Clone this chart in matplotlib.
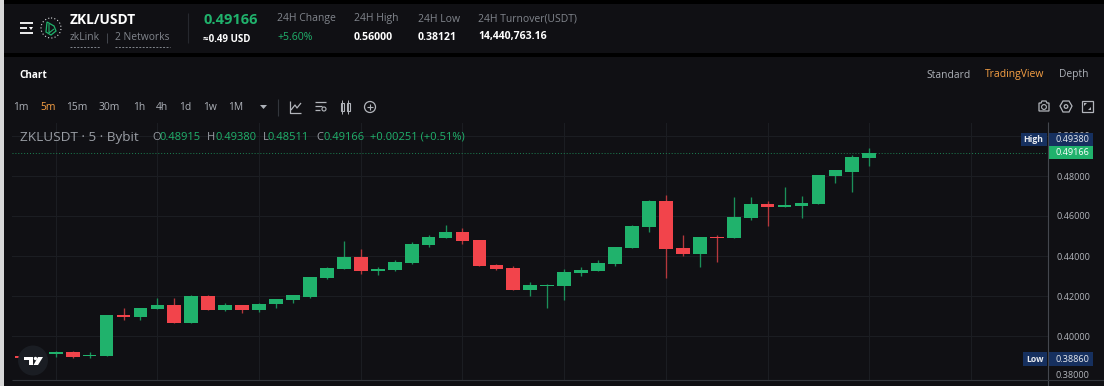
import matplotlib
matplotlib.use("Agg")
import matplotlib.pyplot as plt
from matplotlib.patches import Circle, Polygon, Rectangle

plt.rcParams['font.family'] = ['Open Sans', 'DejaVu Sans']

# candles, oldest first
opens = [.3902, .3890, .3912, .3920, .3898, .3902, .4105, .4095, .4135, .4153, .4067, .4202, .4130, .4153, .4130,
         .4158, .4180, .4197, .4289, .4337, .4397, .4325, .4328, .4365, .4455, .4492, .4522, .4480, .4355, .4338,
         .4232, .4252, .4252, .4317, .4325, .4362, .4442, .4545, .4675, .4440, .4410, .4495, .4490, .4590, .4662,
         .4647, .4650, .4660, .4800, .4822, .48915]
closes = [.3890, .3905, .3920, .3897, .3907, .4103, .4095, .4140, .4153, .4067, .4202, .4130, .4153, .4130, .4162,
          .4185, .4204, .4294, .4342, .4395, .4325, .4333, .4368, .4458, .4495, .4522, .4477, .4350, .4333, .4230,
          .4255, .4257, .4318, .4328, .4363, .4443, .4548, .4675, .4437, .4412, .4495, .4490, .4593, .4662, .4647,
          .4657, .4665, .4805, .4828, .4895, .49166]
highs = [.3902, .3905, .3927, .3923, .3918, .4105, .4142, .4142, .4192, .4188, .4205, .4205, .4167, .4155, .4165,
         .4187, .4206, .4295, .4347, .4475, .4434, .4343, .4382, .4468, .4503, .4557, .4540, .4480, .4360, .4352,
         .4268, .4258, .4333, .4343, .4378, .4445, .4555, .4680, .4705, .4503, .4497, .4505, .4695, .4695, .4675,
         .4747, .4700, .4807, .4830, .4905, .49380]
lows = [.3890, .3890, .3897, .3892, .3892, .3900, .4082, .4082, .4135, .4063, .4063, .4130, .4127, .4117, .4120,
        .4142, .4167, .4192, .4287, .4335, .4308, .4303, .4326, .4362, .4447, .4490, .4460, .4350, .4328, .4228,
        .4202, .4140, .4180, .4302, .4323, .4348, .4440, .4518, .4288, .4402, .4347, .4368, .4488, .4580, .4552,
        .4645, .4588, .4658, .4767, .4720, .48511]
price_ticks = [.40, .42, .44, .46, .48, .50]
last_price = closes[-1]

timeframes = ['1m', '5m', '15m', '30m', '1h', '4h', '1d', '1w', '1M']
timeframe_x = [13, 40, 66, 99, 133, 156, 179, 203, 228]

BG = '#101014'
GREEN = '#20b26c'
RED = '#f2444b'
GREEN_WICK = '#1b9059'
RED_WICK = '#b5383d'
GREY = '#81858c'
GRID = '#1b1d22'
BADGE = '#16305f'
ORANGE = '#f7a044'
ICON = '#b2b5bb'
W, H = 1104, 386

fig = plt.figure(figsize=(W / 100, H / 100), dpi=100, facecolor='#000000')

# chart pane, price scale on the right
ax = fig.add_axes([12 / W, 1 - 380 / H, (1048 - 12) / W, (380 - 123) / H], facecolor=BG, zorder=2)
x = list(range(-2, len(opens) - 2))
colors = [GREEN if c >= o else RED for o, c in zip(opens, closes)]
wick_colors = [GREEN_WICK if c >= o else RED_WICK for o, c in zip(opens, closes)]
ax.vlines(x, lows, highs, colors=wick_colors, linewidth=0.95, zorder=3)
ax.bar(x, [abs(c - o) for o, c in zip(opens, closes)], bottom=[min(o, c) for o, c in zip(opens, closes)],
       width=0.81, color=colors, zorder=4)
ax.axhline(last_price, color=GREEN, linewidth=0.7, linestyle=(0, (1, 2)), alpha=0.7, zorder=2)
ax.set_xlim((12 - 55.7) / 16.95, (1048 - 55.7) / 16.95)
ax.set_ylim(.378, .5065)
ax.set_xticks(range(0, 55, 6))
ax.set_yticks(price_ticks)
ax.set_yticklabels([f'{p:.5f}' for p in price_ticks])
ax.yaxis.tick_right()
ax.tick_params(axis='x', length=0, labelbottom=False)
ax.tick_params(axis='y', length=0, labelsize=6.6, labelcolor=ICON, pad=6)
ax.grid(True, color=GRID, linewidth=0.8)
ax.set_axisbelow(True)
for side in ['top', 'left', 'bottom', 'right']:
    ax.spines[side].set_visible(False)

# page furniture, in pixel coordinates
ui = fig.add_axes([0, 0, 1, 1], zorder=3)
ui.set_xlim(0, W)
ui.set_ylim(H, 0)
ui.axis('off')
back = fig.add_axes([0, 0, 1, 1], zorder=1)
back.set_xlim(0, W)
back.set_ylim(H, 0)
back.axis('off')
back.add_patch(Rectangle((4, 4), W, 49, color=BG, lw=0))
back.add_patch(Rectangle((4, 57), W, H, color=BG, lw=0))
back.add_patch(Rectangle((0, 0), 3.5, H, color='#d8d8d8', lw=0))


def label(px, py, s, color=GREY, size=7.0, weight='normal', ha='left'):
    ui.text(px, py + 1, s, color=color, fontsize=size, fontweight=weight, ha=ha, va='center')


def line(xs, ys, color='#d0d2d6', lw=0.9, **kw):
    ui.plot(xs, ys, color=color, linewidth=lw, solid_capstyle='butt', **kw)


# scale and pane borders
line([1048, 1048], [122, 386], color='#44474e', lw=0.8)
line([12, 1104], [380, 380], color='#33363c', lw=0.8)

# header
for yy, x1 in [(23, 33), (28, 27), (33, 33)]:
    line([20, x1], [yy, yy], color='#ffffff', lw=1.3)
ui.add_patch(Polygon([(29, 27), (33, 27), (31, 30)], color='#ffffff', lw=0))
ui.add_patch(Circle((51, 28), 10, fill=False, ec='#d8dadd', lw=0.8, ls=(0, (1, 2))))
ui.add_patch(Polygon([(47, 22), (54, 26), (56, 31), (51, 35), (46, 32)], fill=False, ec=GREEN, lw=0.9))
line([49, 49, 54], [24, 33, 29], color=GREEN, lw=0.8)
label(70, 19, 'ZKL/USDT', color='#ffffff', size=9.9, weight='bold')
label(70, 37, 'zkLink', size=7.4)
line([107, 107], [33, 43], color='#44474e', lw=0.7)
label(115, 37, '2 Networks', size=7.4)
line([70, 100], [47, 47], color=GREY, lw=0.7, ls=(0, (2, 1.5)))
line([115, 170], [47, 47], color=GREY, lw=0.7, ls=(0, (2, 1.5)))
line([187.5, 187.5], [13, 43], color='#26282e', lw=0.8)
label(203, 19, '0.49166', color=GREEN, size=10.5, weight='bold')
label(203, 38, '≈0.49 USD', color='#ffffff', size=7.0, weight='bold')
label(277, 18, '24H Change', size=7.5)
label(277, 37, '+5.60%', color=GREEN, size=7.6)
label(354, 18, '24H High', size=7.5)
label(354, 36, '0.56000', color='#ffffff', size=7.6, weight='bold')
label(418, 18, '24H Low', size=7.5)
label(418, 36, '0.38121', color='#ffffff', size=7.6, weight='bold')
label(478, 18, '24H Turnover(USDT)', size=7.5)
label(478, 36, '14,440,763.16', color='#ffffff', size=7.6, weight='bold')

# tabs and toolbar
label(19, 74, 'Chart', color='#ffffff', size=7.2, weight='bold')
label(926, 74, 'Standard', color='#adb1b8', size=7.4)
label(985, 74, 'TradingView', color=ORANGE, size=7.5)
label(1059, 74, 'Depth', color='#adb1b8', size=7.4)
for tf, tx in zip(timeframes, timeframe_x):
    label(tx, 106, tf, color=ORANGE if tf == '5m' else '#adb1b8', size=7.4)
ui.add_patch(Polygon([(260, 105), (267, 105), (263.5, 109)], color='#adb1b8', lw=0))
line([278, 278], [99, 116], color='#33363c', lw=0.8)
# toolbar icons
line([290, 290, 301], [101, 113, 113], color=ICON)
line([291, 295, 297, 301], [110, 105, 108, 103], color=ICON)
for yy, x1 in [(102, 326), (106, 322), (110, 320)]:
    line([315, x1], [yy, yy], color=ICON)
ui.add_patch(Circle((324, 109), 2, fill=False, ec=ICON, lw=0.8))
for cx in [342, 348]:
    ui.add_patch(Rectangle((cx - 1.5, 103), 3, 8, fill=False, ec=ICON, lw=0.8))
    line([cx, cx], [100, 114], color=ICON, lw=0.7)
ui.add_patch(Circle((370, 107), 5.5, fill=False, ec=ICON, lw=0.9))
line([367, 373], [107, 107], color=ICON, lw=0.8)
line([370, 370], [104, 110], color=ICON, lw=0.8)
# camera, settings, fullscreen
ui.add_patch(Polygon([(1039, 103), (1041, 103), (1042, 101), (1046, 101), (1047, 103), (1049, 103), (1049, 111),
                      (1039, 111)], fill=False, ec=ICON, lw=0.9))
ui.add_patch(Circle((1044, 107), 2.4, fill=False, ec=ICON, lw=0.8))
ui.add_patch(Polygon([(1063, 101), (1069, 101), (1072, 106), (1069, 112), (1063, 112), (1060, 106)],
                     fill=False, ec=ICON, lw=0.9))
ui.add_patch(Circle((1066, 106.5), 1.8, fill=False, ec=ICON, lw=0.9))
ui.add_patch(Rectangle((1082, 101), 11, 11, fill=False, ec=ICON, lw=0.9))
ui.add_patch(Polygon([(1084, 103), (1087, 103), (1084, 106)], color=ICON, lw=0))
ui.add_patch(Polygon([(1091, 110), (1088, 110), (1091, 107)], color=ICON, lw=0))

# legend line
label(20, 136, 'ZKLUSDT · 5 · Bybit', color='#9a9ea5', size=9.7)
for tx, key, vx, val in [(152, 'O', 160, '0.48915'), (207, 'H', 215, '0.49380'),
                         (263, 'L', 268, '0.48511'), (316, 'C', 323, '0.49166')]:
    label(tx, 136, key, color='#9a9ea5', size=8.0)
    label(vx, 136, val, color=GREEN, size=8.0)
label(370, 136, '+0.00251 (+0.51%)', color=GREEN, size=8.0)

# price badges
ui.add_patch(Rectangle((1021, 133), 26, 13, color=BADGE, lw=0))
ui.add_patch(Rectangle((1048, 133), 45, 13, color=BADGE, lw=0))
ui.add_patch(Rectangle((1048, 146), 45, 13, color=GREEN, lw=0))
ui.add_patch(Rectangle((1023, 352), 24, 14, color=BADGE, lw=0))
ui.add_patch(Rectangle((1048, 352), 45, 14, color=BADGE, lw=0))
label(1033, 138.5, 'High', color='#e8eaee', size=6.2, weight='bold', ha='center')
label(1072, 138.5, '0.49380', color='#e8eaee', size=6.6, ha='center')
label(1072, 151.5, '0.49166', color='#ffffff', size=6.6, ha='center')
label(1035, 358, 'Low', color='#e8eaee', size=6.2, weight='bold', ha='center')
label(1072, 358, '0.38860', color='#e8eaee', size=6.6, ha='center')
label(1072, 375, '0.38000', color=ICON, size=6.6, ha='center')

# TradingView mark
ui.add_patch(Circle((33, 360.5), 15, color='#1a1d23', lw=0))
ui.add_patch(Polygon([(24, 357), (33, 357), (33, 365), (29, 365), (29, 360), (24, 360)], color='#ffffff', lw=0))
ui.add_patch(Circle((35.5, 358.5), 1.7, color='#ffffff', lw=0))
ui.add_patch(Polygon([(38, 357), (43, 357), (38, 365), (33.5, 365)], color='#ffffff', lw=0))

fig.savefig('out.png', dpi=100, facecolor=fig.get_facecolor())
